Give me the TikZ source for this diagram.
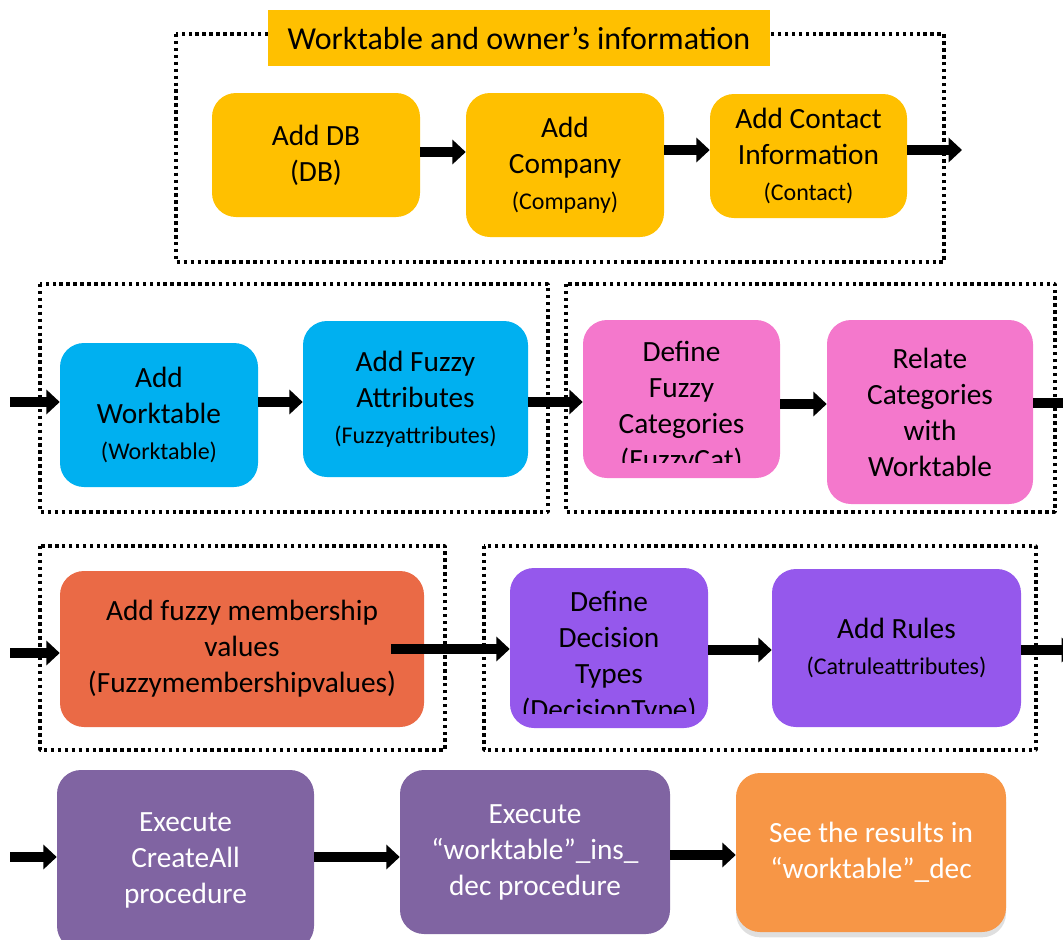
\documentclass[tikz,border=0pt]{standalone}
\usepackage{fontspec}
\setmainfont{Carlito}
\usetikzlibrary{arrows.meta,shadows}
\definecolor{gold}{HTML}{FFC000}
\definecolor{sky}{HTML}{00B0F0}
\definecolor{rose}{HTML}{F478CC}
\definecolor{coral}{HTML}{EA6A46}
\definecolor{violet}{HTML}{9558EC}
\definecolor{plum}{HTML}{8064A2}
\definecolor{peach}{HTML}{F79646}
\newcommand{\subtxt}[1]{{\fontsize{18}{20}\selectfont #1}}
\begin{document}
\begin{tikzpicture}[x=0.75pt, y=-0.75pt, font=\fontsize{22}{27}\selectfont, line join=round,
	box/.style={rounded corners=18pt, align=center, inner sep=2pt},
	wh/.style 2 args={minimum width=#1*0.75pt, minimum height=#2*0.75pt},
	group/.style={line width=2.8pt, dash pattern=on 2.6pt off 2.6pt},
	flow/.style={line width=7.5pt, -{Triangle[length=10pt,width=18pt]}}]
	\clip (0,0) rectangle (1063,939);
	% dotted groups
	\draw[group] (176,34) rectangle (944,262);
	\draw[group] (40,284) rectangle (548,512);
	\draw[group] (566,284) rectangle (1055,512);
	\draw[group] (40,546) rectangle (445,750);
	\draw[group] (484,546) rectangle (1036,750);
	% row 1
	\node[fill=gold, wh={502}{56}, font=\fontsize{24}{28}\selectfont] (title) at (519,38) {Worktable and owner's information};
	\node[box, fill=gold, wh={208}{124}] (db) at (316,155) {Add DB\\(DB)};
	\node[box, fill=gold, wh={198}{144}] (comp) at (565,165) {Add\\Company\\\subtxt{(Company)}};
	\node[box, fill=gold, wh={197}{124}] (cont) at (808.5,156) {Add Contact\\Information\\\subtxt{(Contact)}};
	\coordinate (out1) at (962,150);
	% row 2
	\coordinate (in2) at (10,402);
	\node[box, fill=sky, wh={198}{144}] (wt) at (159,415) {Add\\Worktable\\\subtxt{(Worktable)}};
	\node[box, fill=sky, wh={225}{156}] (fa) at (415.5,399) {Add Fuzzy\\Attributes\\\subtxt{(Fuzzyattributes)}};
	\node[box, fill=rose, wh={197}{158}] (cat) at (681.5,399) {};
	\begin{scope}
		\clip (583,300) rectangle (780,462);
		\node[align=center] (cattxt) at (681.5,408) {Define\\Fuzzy\\Categories\\(FuzzyCat)};
	\end{scope}
	\node[box, fill=rose, wh={206}{184}] (rel) at (930,412) {Relate\\Categories\\with\\Worktable};
	\coordinate (out2) at (1080,403);
	% row 3
	\coordinate (in3) at (10,653);
	\node[box, fill=coral, wh={364}{156}] (mem) at (242,649) {Add fuzzy membership\\values\\(Fuzzymembershipvalues)};
	\node[box, fill=violet, wh={198}{160}] (dec) at (609,648) {};
	\begin{scope}
		\clip (510,560) rectangle (708,713);
		\node[align=center] (dectxt) at (609,658) {Define\\Decision\\Types\\(DecisionType)};
	\end{scope}
	\node[box, fill=violet, wh={249}{158}] (rul) at (896.5,648) {Add Rules\\\subtxt{(Catruleattributes)}};
	\coordinate (out3) at (1075,650);
	% row 4
	\coordinate (in4) at (10,857);
	\node[box, fill=plum, text=white, wh={257}{180}] (crt) at (185.5,860) {Execute\\CreateAll\\procedure};
	\node[box, fill=plum, text=white, wh={270}{164}] (ins) at (535,852) {Execute\\``worktable''\_ins\_\\dec procedure};
	\node[box, fill=peach, text=white, wh={270}{159}, drop shadow={shadow xshift=0pt, shadow yshift=-4pt, opacity=.25}] (res) at (871,852.5) {See the results in\\``worktable''\_dec};
	% connectors
	\draw[flow] (db.east |- 0,152) -- (comp.west |- 0,152);
	\draw[flow] (comp.east |- 0,150) -- (cont.west |- 0,150);
	\draw[flow] (cont.east |- out1) -- (out1);
	\draw[flow] (in2) -- (in2 -| wt.west);
	\draw[flow] (wt.east |- in2) -- (fa.west |- in2);
	\draw[flow] (fa.east |- in2) -- (cat.west |- in2);
	\draw[flow] (cat.east |- 0,404) -- (rel.west |- 0,404);
	\draw[flow] (rel.east |- out2) -- (out2);
	\draw[flow] (in3) -- (in3 -| mem.west);
	\draw[flow] ([xshift=-25pt]mem.east) -- (mem.east -| dec.west);
	\draw[flow] (dec.east |- out3) -- (rul.west |- out3);
	\draw[flow] (rul.east |- out3) -- (out3);
	\draw[flow] (in4) -- (in4 -| crt.west);
	\draw[flow] (crt.east |- in4) -- (ins.west |- in4);
	\draw[flow] (ins.east |- 0,855) -- (res.west |- 0,855);
\end{tikzpicture}
\end{document}
